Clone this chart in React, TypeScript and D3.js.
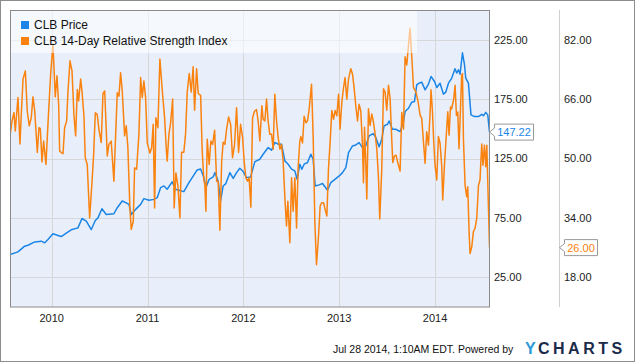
import * as d3 from "d3";
import React, { RefObject, useEffect, useRef } from "react";

// CLB weekly price (x as fractional year)
const priceYears = [
  2009.565, 2009.648, 2009.718, 2009.753, 2009.823, 2009.891, 2009.927, 2009.961, 2010.013, 2010.066,
  2010.100, 2010.152, 2010.204, 2010.274, 2010.316, 2010.361, 2010.413, 2010.455, 2010.483, 2010.524,
  2010.569, 2010.649, 2010.684, 2010.736, 2010.772, 2010.806, 2010.830, 2010.876, 2010.928, 2010.962,
  2011.015, 2011.067, 2011.101, 2011.137, 2011.171, 2011.205, 2011.257, 2011.293, 2011.327, 2011.379,
  2011.432, 2011.466, 2011.518, 2011.554, 2011.588, 2011.609, 2011.643, 2011.685, 2011.703, 2011.737,
  2011.762, 2011.789, 2011.817, 2011.859, 2011.894, 2011.929, 2011.963, 2011.998, 2012.033, 2012.075,
  2012.120, 2012.172, 2012.206, 2012.259, 2012.294, 2012.328, 2012.363, 2012.398, 2012.433, 2012.467,
  2012.503, 2012.537, 2012.561, 2012.589, 2012.610, 2012.634, 2012.669, 2012.704, 2012.728, 2012.749,
  2012.790, 2012.826, 2012.878, 2012.912, 2012.965, 2013.000, 2013.034, 2013.069, 2013.097, 2013.139,
  2013.173, 2013.207, 2013.243, 2013.277, 2013.312, 2013.354, 2013.382, 2013.416, 2013.444, 2013.468,
  2013.504, 2013.520, 2013.556, 2013.590, 2013.635, 2013.671, 2013.687, 2013.723, 2013.757, 2013.785,
  2013.809, 2013.833, 2013.861, 2013.896, 2013.931, 2013.958, 2013.994, 2014.018, 2014.052, 2014.087,
  2014.112, 2014.140, 2014.174, 2014.208, 2014.226, 2014.244, 2014.261, 2014.286, 2014.307, 2014.320,
  2014.348, 2014.375, 2014.411, 2014.453, 2014.487, 2014.505, 2014.529, 2014.550, 2014.568,
];
const priceValues = [
  44.1, 46.4, 51.2, 52, 54.8, 55.4, 54, 56.8, 61.6, 60.2,
  59.3, 62.1, 65, 66.6, 74.5, 72.3, 65.2, 72.8, 75, 82.7,
  77.9, 78.5, 83.6, 89.2, 87.8, 86.4, 77.9, 82.2, 86.4, 91.2,
  89.8, 90.6, 92, 100.5, 101.9, 99.1, 105.3, 99.1, 98.2, 97.1,
  104.7, 108.9, 115.4, 116.2, 108.9, 100.5, 107.5, 109.5, 113.1, 106.1,
  89.2, 101.9, 103.9, 113.1, 108.3, 113.1, 116.8, 114, 108.9, 109.5,
  122.4, 124.4, 128.6, 134.2, 132, 138.5, 137.1, 137.1, 123, 120.2,
  116, 114.6, 107.5, 120.2, 115.9, 120.2, 121.6, 128.6, 124.4, 101.9,
  102.8, 103.9, 98.3, 104.7, 108.1, 110.3, 113.1, 117.3, 130, 135.6,
  136.4, 138.4, 134.2, 135.6, 144.1, 146, 142.7, 134.8, 141.3, 152.4,
  153.8, 156.6, 149.6, 149.6, 147.6, 156, 164.5, 167.3, 172.4, 172.9,
  187, 188.4, 189.3, 182.8, 187.6, 194.1, 189.8, 184.8, 188.4, 179.2,
  180.9, 188.4, 192.7, 200.5, 196.9, 199.7, 196, 214, 204.1, 192.7,
  188.4, 161.7, 160.3, 160.3, 162.2, 161, 163.8, 161.7, 147.22,
];

// CLB 14-day RSI
const rsiYears = [
  2009.565, 2009.586, 2009.607, 2009.620, 2009.648, 2009.669, 2009.683, 2009.701, 2009.725, 2009.745,
  2009.766, 2009.787, 2009.805, 2009.823, 2009.850, 2009.867, 2009.881, 2009.899, 2009.916, 2009.940,
  2009.961, 2009.989, 2010.013, 2010.037, 2010.055, 2010.073, 2010.083, 2010.100, 2010.118, 2010.135,
  2010.156, 2010.170, 2010.191, 2010.212, 2010.232, 2010.250, 2010.267, 2010.281, 2010.302, 2010.316,
  2010.337, 2010.350, 2010.371, 2010.396, 2010.420, 2010.438, 2010.455, 2010.475, 2010.493, 2010.517,
  2010.535, 2010.553, 2010.580, 2010.597, 2010.621, 2010.649, 2010.684, 2010.702, 2010.719, 2010.736,
  2010.761, 2010.778, 2010.795, 2010.816, 2010.830, 2010.851, 2010.865, 2010.886, 2010.910, 2010.928,
  2010.945, 2010.962, 2010.980, 2010.997, 2011.025, 2011.043, 2011.059, 2011.074, 2011.087, 2011.108,
  2011.129, 2011.157, 2011.178, 2011.195, 2011.205, 2011.223, 2011.241, 2011.262, 2011.278, 2011.296,
  2011.317, 2011.338, 2011.355, 2011.379, 2011.397, 2011.414, 2011.435, 2011.456, 2011.476, 2011.491,
  2011.512, 2011.529, 2011.554, 2011.570, 2011.588, 2011.598, 2011.609, 2011.623, 2011.643, 2011.661,
  2011.679, 2011.700, 2011.721, 2011.737, 2011.755, 2011.773, 2011.789, 2011.807, 2011.825, 2011.846,
  2011.867, 2011.887, 2011.908, 2011.929, 2011.950, 2011.971, 2011.992, 2012.008, 2012.026, 2012.044,
  2012.060, 2012.078, 2012.096, 2012.117, 2012.137, 2012.154, 2012.172, 2012.193, 2012.206, 2012.224,
  2012.242, 2012.258, 2012.276, 2012.294, 2012.311, 2012.328, 2012.346, 2012.363, 2012.381, 2012.398,
  2012.415, 2012.433, 2012.450, 2012.464, 2012.485, 2012.503, 2012.519, 2012.537, 2012.555, 2012.571,
  2012.589, 2012.600, 2012.617, 2012.634, 2012.652, 2012.669, 2012.686, 2012.711, 2012.728, 2012.746,
  2012.763, 2012.784, 2012.801, 2012.818, 2012.836, 2012.853, 2012.871, 2012.888, 2012.905, 2012.923,
  2012.941, 2012.957, 2012.975, 2012.993, 2013.009, 2013.027, 2013.045, 2013.061, 2013.079, 2013.097,
  2013.121, 2013.139, 2013.155, 2013.173, 2013.191, 2013.207, 2013.225, 2013.243, 2013.253, 2013.264,
  2013.277, 2013.288, 2013.305, 2013.322, 2013.340, 2013.357, 2013.374, 2013.392, 2013.410, 2013.423,
  2013.444, 2013.462, 2013.479, 2013.496, 2013.514, 2013.531, 2013.548, 2013.559, 2013.576, 2013.593,
  2013.611, 2013.635, 2013.653, 2013.671, 2013.687, 2013.705, 2013.723, 2013.739, 2013.757, 2013.775,
  2013.799, 2013.820, 2013.844, 2013.861, 2013.879, 2013.896, 2013.913, 2013.931, 2013.948, 2013.958,
  2013.973, 2013.986, 2014.000, 2014.018, 2014.035, 2014.052, 2014.070, 2014.080, 2014.098, 2014.115,
  2014.133, 2014.146, 2014.161, 2014.174, 2014.195, 2014.209, 2014.223, 2014.237, 2014.250, 2014.265,
  2014.278, 2014.286, 2014.296, 2014.313, 2014.330, 2014.341, 2014.355, 2014.365, 2014.383, 2014.400,
  2014.417, 2014.435, 2014.453, 2014.469, 2014.487, 2014.500, 2014.515, 2014.529, 2014.540, 2014.568,
];
const rsiValues = [
  56.1, 60.1, 62.4, 57.4, 66.4, 53.9, 62, 71.4, 73.6, 62.8,
  58.8, 61, 66.6, 62.8, 51.6, 58.3, 58.1, 49.1, 54.7, 48.4,
  59.2, 72.7, 80.8, 66.6, 72.3, 64.2, 52, 51.6, 51.3, 58.3,
  60.1, 68.2, 76.3, 73.6, 61.8, 56.1, 68.6, 65.5, 71.4, 68.2,
  61.2, 50.2, 48.4, 34, 43.4, 51.1, 62.3, 61.9, 57.8, 54.3,
  67.5, 68.2, 50.7, 53.8, 54.7, 43.9, 67.7, 66.8, 73.1, 68.2,
  56.1, 58.8, 52.9, 36.7, 30.9, 33.1, 47.5, 47.1, 56.5, 71.8,
  66.4, 70.9, 66.4, 54.2, 51.5, 52.9, 59.2, 36.7, 61, 58.3,
  76.8, 67.3, 61, 52.9, 49.3, 56.5, 59.7, 66, 36.7, 46.1,
  42.6, 34, 51.7, 51.7, 56.7, 67.9, 72.9, 67.9, 74.7, 63,
  74.2, 67.5, 67, 52.2, 44.1, 43, 35.8, 55.2, 48.4, 54.7,
  53.8, 57.6, 43.9, 43.9, 30.7, 49, 54.4, 53.8, 57.9, 61.2,
  59.2, 50.2, 53.8, 63.7, 51.6, 59.2, 55.6, 49.3, 44.8, 43.9,
  44.8, 36.9, 61, 62.8, 63.2, 60.1, 54.7, 64.2, 60.6, 60.1,
  66, 60.1, 56.5, 56.5, 52.5, 67.3, 60.1, 55.6, 52.5, 53.8,
  49.3, 39.4, 31.8, 38.5, 27.3, 44.8, 35.8, 44.8, 31.3, 47.5,
  54.7, 55.9, 54.2, 61.4, 59.6, 60.1, 63.2, 70, 56.1, 32.7,
  21.4, 29.1, 37.2, 38.1, 38.1, 36.3, 34.5, 47.2, 54.4, 62.9,
  60.6, 62.9, 61.5, 67.3, 57.9, 65.1, 69.1, 71.8, 66, 71.4,
  74.2, 72.7, 69.1, 64.2, 60.1, 64.6, 62.8, 53.4, 43.5, 58.4,
  49, 39.1, 63.4, 58.9, 62, 59.8, 56.7, 52.6, 44.6, 33.7,
  47.2, 68.8, 67.9, 63, 69.7, 66.1, 55.2, 48.9, 50.7, 50.9,
  48.9, 46.6, 62.4, 57.9, 77.4, 75.2, 80.6, 85.1, 77.4, 69.1,
  68, 65.7, 61.7, 60.8, 54.5, 48.7, 57.2, 53.6, 62.2, 68.5,
  62.6, 54.5, 48.2, 44.2, 55.9, 54.1, 47.8, 38.8, 48.2, 55.4,
  62.6, 56.3, 63.9, 63.4, 66.1, 69.7, 61.6, 62.5, 52.6, 63.4,
  72.4, 72.9, 55.4, 42.8, 39.7, 42.4, 30.3, 24.4, 26.2, 30.3,
  31.2, 33.9, 42.8, 44.2, 53.9, 48.2, 53.6, 47.8, 53.6, 26,
];

const yearTicks = [2010, 2011, 2012, 2013, 2014];
const priceTicks = [25, 75, 125, 175, 225];
const rsiTicks = [18, 34, 50, 66, 82];
const seriesNames = ["CLB Price", "CLB 14-Day Relative Strength Index"];
const lastPrice = 147.22;
const lastRsi = 26.0;
const footerText = "Jul 28 2014, 1:10AM EDT. Powered by";

const W = 635;
const H = 362;
const FONT = "'Liberation Sans', Arial, sans-serif";
const BLUE = "#1a85e6";
const ORANGE = "#fa820f";
const plot = { left: 10, top: 10, right: 489.5, bottom: 307 };

const App = () => {
  const d3Ref: RefObject<HTMLDivElement> = useRef(null);

  useEffect(() => {
    const root = d3.select(d3Ref.current);
    root.selectAll("*").remove();
    const svg = root
      .append("svg")
      .attr("width", W)
      .attr("height", H)
      .style("position", "absolute")
      .style("left", 0)
      .style("top", 0)
      .style("font-family", FONT);

    const x = d3.scaleLinear().domain([2009.565, 2014.568]).range([plot.left, plot.right]);
    const yPrice = d3.scaleLinear().domain([0, 250]).range([plot.bottom, plot.top]);
    const yRsi = d3.scaleLinear().domain([10, 90]).range([plot.bottom, plot.top]);

    // outer frame
    svg.append("rect")
      .attr("x", 0.5).attr("y", 0.5)
      .attr("width", W - 1).attr("height", H - 1)
      .attr("fill", "#fff").attr("stroke", "#8c8c8c");

    // plot background
    svg.append("rect")
      .attr("x", plot.left).attr("y", plot.top)
      .attr("width", plot.right - plot.left).attr("height", plot.bottom - plot.top)
      .attr("fill", "#e9effa");

    svg.append("g").selectAll("line")
      .data(priceTicks)
      .enter()
      .append("line")
      .attr("x1", plot.left).attr("x2", plot.right)
      .attr("y1", (d) => Math.round(yPrice(d)) + 0.5)
      .attr("y2", (d) => Math.round(yPrice(d)) + 0.5)
      .attr("stroke", "#d5d7db");

    svg.append("g").selectAll("line")
      .data(yearTicks)
      .enter()
      .append("line")
      .attr("x1", (d) => Math.round(x(d)) + 0.5)
      .attr("x2", (d) => Math.round(x(d)) + 0.5)
      .attr("y1", plot.top).attr("y2", plot.bottom)
      .attr("stroke", "#d5d7db");

    svg.append("clipPath").attr("id", "plotclip")
      .append("rect")
      .attr("x", plot.left).attr("y", plot.top)
      .attr("width", plot.right - plot.left).attr("height", plot.bottom - plot.top);

    const priceData: [number, number][] = priceYears.map((t, i) => [t, priceValues[i]]);
    const rsiData: [number, number][] = rsiYears.map((t, i) => [t, rsiValues[i]]);

    const lines = svg.append("g").attr("clip-path", "url(#plotclip)");
    lines.append("path")
      .datum(priceData)
      .attr("fill", "none")
      .attr("stroke", BLUE)
      .attr("stroke-width", 1.5)
      .attr("stroke-linejoin", "round")
      .attr("d", d3.line<[number, number]>().x((d) => x(d[0])).y((d) => yPrice(d[1])));
    lines.append("path")
      .datum(rsiData)
      .attr("fill", "none")
      .attr("stroke", ORANGE)
      .attr("stroke-width", 1.5)
      .attr("stroke-linejoin", "round")
      .attr("d", d3.line<[number, number]>().x((d) => x(d[0])).y((d) => yRsi(d[1])));

    // legend band (semi transparent over the lines)
    svg.append("rect")
      .attr("x", plot.left).attr("y", plot.top)
      .attr("width", 407).attr("height", 43)
      .attr("fill", "#fff").attr("fill-opacity", 0.55);

    const legend = svg.append("g");
    seriesNames.forEach((name, i) => {
      legend.append("rect")
        .attr("x", 21).attr("y", 21 + i * 16)
        .attr("width", 8).attr("height", 8)
        .attr("fill", i === 0 ? BLUE : ORANGE);
      legend.append("text")
        .attr("x", 34).attr("y", 29 + i * 16)
        .attr("font-size", 12)
        .attr("fill", "#111")
        .text(name);
    });

    // plot border
    svg.append("rect")
      .attr("x", plot.left + 0.5).attr("y", plot.top + 0.5)
      .attr("width", plot.right - plot.left - 0.5).attr("height", plot.bottom - plot.top - 0.5)
      .attr("fill", "none").attr("stroke", "#8a8a8a");

    // right axes
    svg.append("g").selectAll("text")
      .data(priceTicks)
      .enter()
      .append("text")
      .attr("x", 494)
      .attr("y", (d) => yPrice(d))
      .attr("dy", "0.35em")
      .attr("font-size", 11)
      .attr("fill", "#222")
      .text((d) => d3.format(".2f")(d));

    svg.append("line")
      .attr("x1", 559.5).attr("x2", 559.5)
      .attr("y1", plot.top).attr("y2", plot.bottom)
      .attr("stroke", "#cfcfcf");

    svg.append("g").selectAll("text")
      .data(rsiTicks)
      .enter()
      .append("text")
      .attr("x", 564)
      .attr("y", (d) => yRsi(d))
      .attr("dy", "0.35em")
      .attr("font-size", 11)
      .attr("fill", "#222")
      .text((d) => d3.format(".2f")(d));

    svg.append("g").selectAll("text")
      .data(yearTicks)
      .enter()
      .append("text")
      .attr("x", (d) => x(d))
      .attr("y", 322)
      .attr("text-anchor", "middle")
      .attr("font-size", 11)
      .attr("fill", "#222")
      .text((d) => String(d));

    // last value flags
    const flag = (tipX: number, yc: number, w: number, label: string, color: string) => {
      const left = tipX + 5;
      const top = yc - 8;
      const bottom = yc + 8;
      svg.append("path")
        .attr("d", `M${tipX},${yc} L${left},${yc - 4} L${left},${top} L${left + w},${top} L${left + w},${bottom} L${left},${bottom} L${left},${yc + 4} Z`)
        .attr("fill", "#fff")
        .attr("stroke", "#999");
      svg.append("text")
        .attr("x", left + w / 2)
        .attr("y", yc)
        .attr("dy", "0.36em")
        .attr("text-anchor", "middle")
        .attr("font-size", 11)
        .attr("fill", color)
        .text(label);
    };
    flag(plot.right, yPrice(lastPrice), 39, d3.format(".2f")(lastPrice), BLUE);
    flag(559.5, yRsi(lastRsi), 33, d3.format(".2f")(lastRsi), ORANGE);

    // footer
    svg.append("text")
      .attr("x", 333)
      .attr("y", 353)
      .attr("font-size", 10.5)
      .attr("fill", "#111")
      .text(footerText);
    svg.append("text")
      .attr("x", 525)
      .attr("y", 354)
      .attr("font-size", 16)
      .attr("font-weight", "bold")
      .attr("fill", "#2b9ad8")
      .text("Y");
    svg.append("text")
      .attr("x", 538)
      .attr("y", 354)
      .attr("font-size", 16)
      .attr("font-weight", "bold")
      .attr("letter-spacing", 3.5)
      .attr("fill", "#1c2b4a")
      .text("CHARTS");
  }, [d3Ref]);

  return (
    <>
      <div ref={d3Ref} />
    </>
  );
};

export default App;
